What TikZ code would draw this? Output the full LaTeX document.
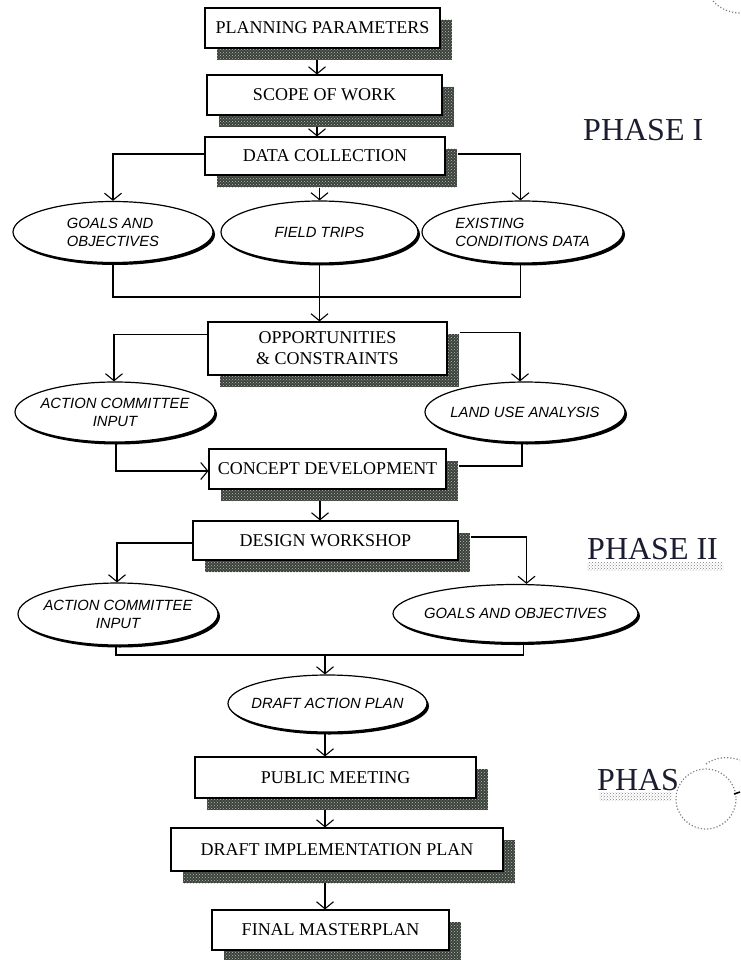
\documentclass[tikz,border=0pt]{standalone}
\usepackage{fontspec}
\setmainfont{Liberation Serif}
\newfontfamily\ovalfam{Liberation Sans}
\usetikzlibrary{shapes.geometric,arrows.meta,shadows,patterns}
\definecolor{shcol}{RGB}{58,66,58}
\definecolor{phcol}{RGB}{28,28,48}
\begin{document}
\begin{tikzpicture}[x=1pt,y=-1pt,
  box/.style={rectangle, draw=black, line width=1.1pt, fill=white, inner sep=0pt,
    font=\fontsize{18}{21}\selectfont, align=center,
    drop shadow={shadow xshift=12pt, shadow yshift=-12pt, opacity=1, fill=shcol,
      postaction={pattern=crosshatch dots, pattern color=gray!55}}},
  oval/.style={ellipse, draw=black, line width=1.2pt, fill=white, inner sep=0pt,
    drop shadow={shadow xshift=2pt, shadow yshift=-2.5pt, opacity=1, fill=black}},
  ovaltext/.style={font=\ovalfam\itshape\fontsize{14.8}{18}\selectfont, inner sep=0pt},
  phase/.style={font=\fontsize{32}{36}\selectfont, text=phcol, inner sep=0pt},
  conn/.style={line width=1.2pt},
  arr/.style={conn, -{Straight Barb[length=7pt,width=17pt,line width=1.1pt]}}
]
\useasboundingbox (0,0) rectangle (740,960);

% ---------- boxes ----------
\node[box, minimum width=235pt, minimum height=40pt] (pp) at (322.5,28) {PLANNING PARAMETERS};
\node[box, minimum width=235pt, minimum height=40pt] (sw) at (324.5,95) {SCOPE OF WORK};
\node[box, minimum width=240pt, minimum height=38pt] (dc) at (325,156) {DATA COLLECTION};
\node[box, minimum width=239pt, minimum height=53pt] (opp) at (327.5,348.5) {OPPORTUNITIES\\\& CONSTRAINTS};
\node[box, minimum width=237pt, minimum height=40pt] (cd) at (327.5,469) {CONCEPT DEVELOPMENT};
\node[box, minimum width=265pt, minimum height=39pt] (dw) at (325.5,540.5) {DESIGN WORKSHOP};
\node[box, minimum width=281pt, minimum height=41pt] (pm) at (335.5,777.5) {PUBLIC MEETING};
\node[box, minimum width=332pt, minimum height=43pt] (dip) at (337,849.5) {DRAFT IMPLEMENTATION PLAN};
\node[box, minimum width=237pt, minimum height=40pt] (fm) at (330.5,930) {FINAL MASTERPLAN};

% ---------- ovals ----------
\node[oval, minimum width=200pt, minimum height=61pt,
  label={[ovaltext, align=left]center:{GOALS AND\\OBJECTIVES}}] (go1) at (113,232) {};
\node[oval, minimum width=197pt, minimum height=62pt,
  label={[ovaltext]center:FIELD TRIPS}] (ft) at (319.5,232) {};
\node[oval, minimum width=201pt, minimum height=62pt,
  label={[ovaltext, align=left]center:{EXISTING\\CONDITIONS DATA}}] (ex1) at (522.5,232) {};
\node[oval, minimum width=200pt, minimum height=60pt,
  label={[ovaltext, align=center]center:{ACTION COMMITTEE\\INPUT}}] (ac1) at (115,412) {};
\node[oval, minimum width=200pt, minimum height=60pt,
  label={[ovaltext]center:LAND USE ANALYSIS}] (lu) at (525,412) {};
\node[oval, minimum width=200pt, minimum height=62pt,
  label={[ovaltext, align=center]center:{ACTION COMMITTEE\\INPUT}}] (ac2) at (118,614) {};
\node[oval, minimum width=245pt, minimum height=58pt,
  label={[ovaltext]center:GOALS AND OBJECTIVES}] (go2) at (515.5,613.5) {};
\node[oval, minimum width=199pt, minimum height=57pt,
  label={[ovaltext]center:DRAFT ACTION PLAN}] (dap) at (327.5,703.5) {};

% ---------- phase labels ----------
\node[phase, anchor=west] (p1) at (583,130) {PHASE I};
\node[phase, anchor=west] (p2) at (587,549) {PHASE II};
\fill[pattern=crosshatch dots, pattern color=gray] (587,562) rectangle (723,570);
\node[phase, anchor=west] (p3) at (597,780) {PHAS};
\fill[pattern=crosshatch dots, pattern color=gray] (599,792) rectangle (672,800);
\draw[gray, dotted, line width=1.2pt, fill=white] (706,799) circle (30);
\draw[gray, dotted, line width=1.2pt] (706,764) .. controls (715,757) and (728,756) .. (740,760);
\draw[gray, dotted, line width=1.2pt] (713,1) .. controls (720,9) and (730,13) .. (740,13);
\draw[line width=1.6pt] (734,794) -- (740,792);

% ---------- connectors ----------
\coordinate (c1) at (317,60);
\draw[arr] (c1) -- (c1 |- sw.north);
\coordinate (c2) at (317,127);
\draw[arr] (c2) -- (c2 |- dc.north);

\draw[arr] ([yshift=2pt]dc.west) -| (go1.north);
\draw[arr] ([xshift=12pt,yshift=2pt]dc.east) -| ([xshift=-2pt]ex1.north);
\coordinate (c3) at (319.5,188);
\draw[arr] (c3) -- (ft.north);

\coordinate (m1) at (320,297);
\draw[conn] (go1.south) |- (m1) -| ([xshift=-2pt]ex1.south);
\draw[arr] (ft.south) -- (ft.south |- opp.north);

\draw[arr] ([yshift=14pt]opp.west) -| ([xshift=-1pt]ac1.north);
\draw[arr] ([xshift=12pt,yshift=16pt]opp.east) -| ([xshift=-5pt]lu.north);

\draw[arr] ([xshift=1pt]ac1.south) |- ([yshift=-2pt]cd.west);
\draw[conn] ([xshift=-3pt]lu.south) |- ([xshift=12pt,yshift=3pt]cd.east);

\coordinate (c4) at (320,501);
\draw[arr] (c4) -- (c4 |- dw.north);

\draw[arr] ([yshift=-2.5pt]dw.west) -| ([xshift=-1pt]ac2.north);
\draw[arr] ([xshift=12pt,yshift=3.5pt]dw.east) -| ([xshift=11pt]go2.north);

\coordinate (m2) at (325,655);
\draw[conn] ([xshift=-2pt]ac2.south) |- (m2) -| ([xshift=8pt]go2.south);
\draw[arr] (m2) -- (m2 |- dap.north);

\draw[arr] ([xshift=-2.5pt]dap.south) -- ([xshift=-2.5pt]dap.south |- pm.north);
\coordinate (c5) at (325,810);
\draw[arr] (c5) -- (c5 |- dip.north);
\coordinate (c6) at (325,883);
\draw[arr] (c6) -- (c6 |- fm.north);
\end{tikzpicture}
\end{document}
